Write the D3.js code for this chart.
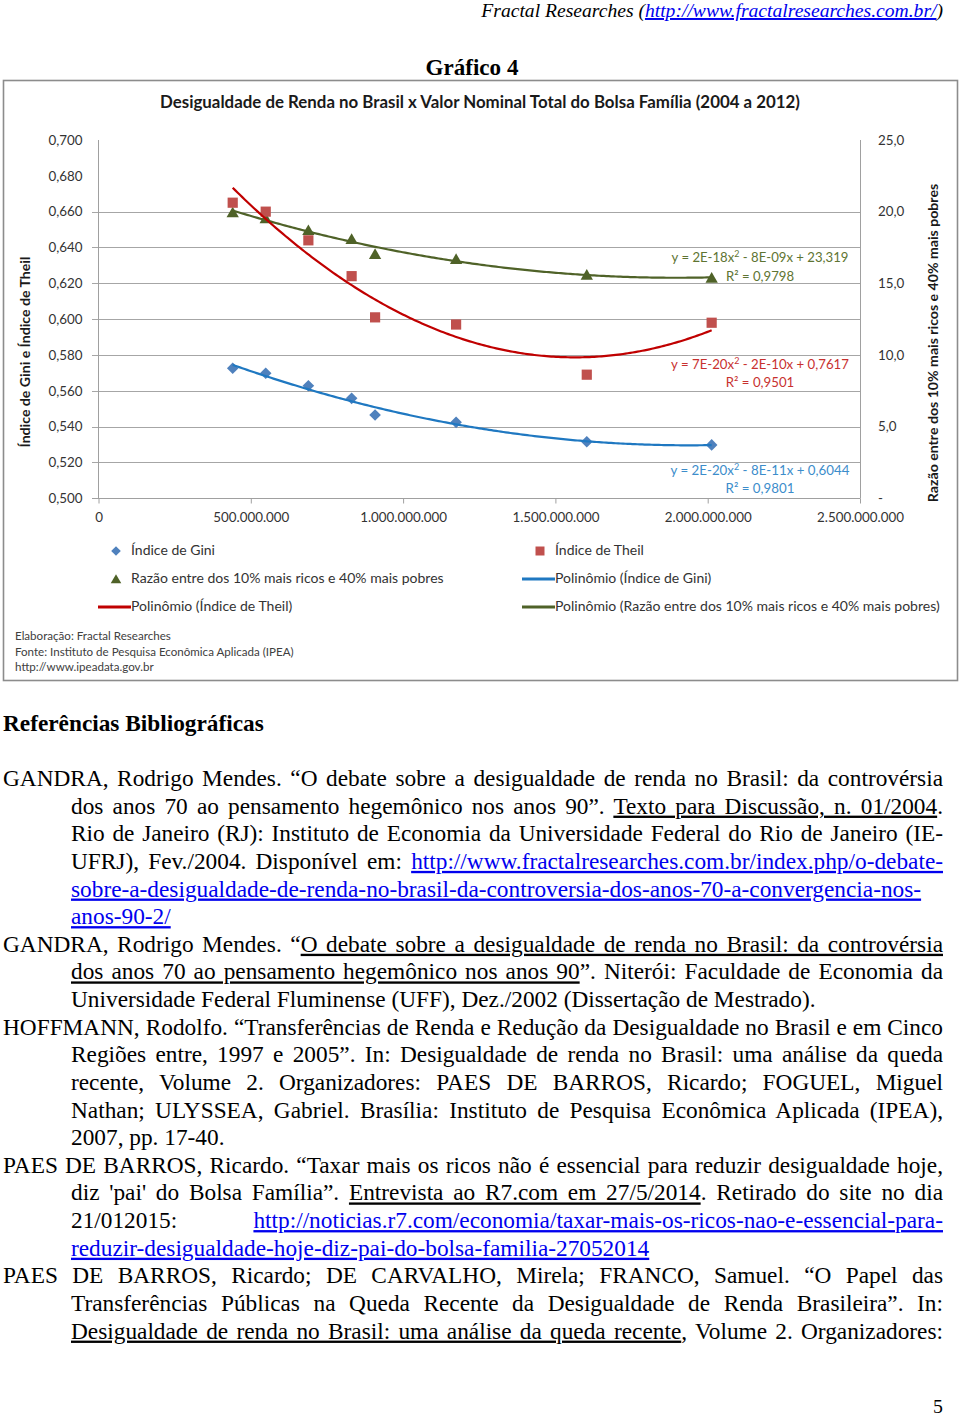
<!DOCTYPE html>
<html><head><meta charset="utf-8">
<script src="https://cdn.jsdelivr.net/npm/d3@7"></script>
<style>body{margin:0;background:#fff}svg{display:block}</style>
</head><body>
<svg id="page" width="960" height="1418"></svg>
<script>
// ---------------- DATA ----------------
const bolsaValues = [440.6e6, 549e6, 689e6, 831e6, 908e6, 1174e6, 1603e6, 2013e6];
const giniValues  = [0.5726, 0.5698, 0.5628, 0.5558, 0.5465, 0.5424, 0.5316, 0.5298];
const theilValues = [0.665, 0.660, 0.644, 0.624, 0.601, 0.597, 0.569, 0.598];
const ratioValues = [19.96, 19.55, 18.72, 18.1, 17.05, 16.7, 15.6, 15.4];

const xTickValues = [0, 5e8, 1e9, 1.5e9, 2e9, 2.5e9];
const xTickLabels = ["0", "500.000.000", "1.000.000.000", "1.500.000.000", "2.000.000.000", "2.500.000.000"];
const leftTickValues = [0.50, 0.52, 0.54, 0.56, 0.58, 0.60, 0.62, 0.64, 0.66, 0.68, 0.70];
const leftTickLabels = ["0,500", "0,520", "0,540", "0,560", "0,580", "0,600", "0,620", "0,640", "0,660", "0,680", "0,700"];
const gridValues = [0.52, 0.54, 0.56, 0.58, 0.60, 0.62, 0.64, 0.66];
const rightTickValues = [0, 5, 10, 15, 20, 25];
const rightTickLabels = ["-", "5,0", "10,0", "15,0", "20,0", "25,0"];

const seriesNames = ["Índice de Gini", "Índice de Theil", "Razão entre dos 10% mais ricos e 40% mais pobres"];
const trendNames = ["Polinômio (Índice de Gini)", "Polinômio (Índice de Theil)", "Polinômio (Razão entre dos 10% mais ricos e 40% mais pobres)"];
const equationTexts = [
  ["y = 2E-20x", "2", " - 8E-11x + 0,6044", "R² = 0,9801"],
  ["y = 7E-20x", "2", " - 2E-10x + 0,7617", "R² = 0,9501"],
  ["y = 2E-18x", "2", " - 8E-09x + 23,319", "R² = 0,9798"]
];

// ---------------- LAYOUT ----------------
const svg = d3.select("#page");
const SANS = "Lato, 'Open Sans', sans-serif";
const SERIF = "'Liberation Serif', 'Times New Roman', serif";
const C = {
  gini: "#4F81BD", theil: "#C0504D", ratio: "#4F6228",
  giniLine: "#1F78C1", theilLine: "#C00000", ratioLine: "#4F6228",
  giniText: "#3C8DCB", theilText: "#C8312F", ratioText: "#5E7432",
  axis: "#A0A0A0", grid: "#A6A6A6", text: "#333333"
};

function fit(sel, w) {
  const l = sel.node().getComputedTextLength();
  const fs = parseFloat(sel.attr("font-size"));
  sel.attr("font-size", fs * w / l);
  return fs * w / l;
}

// header
const hdr = svg.append("text").attr("x", 943).attr("y", 17).attr("text-anchor", "end")
  .attr("font-family", SERIF).attr("font-style", "italic").attr("font-size", 19).attr("fill", "#000");
hdr.append("tspan").text("Fractal Researches (");
hdr.append("tspan").attr("fill", "#0000EE").attr("text-decoration", "underline").text("http://www.fractalresearches.com.br/");
hdr.append("tspan").text(")");
fit(hdr, 462);

const g4 = svg.append("text").attr("x", 472).attr("y", 75).attr("text-anchor", "middle")
  .attr("font-family", SERIF).attr("font-weight", "bold").attr("font-size", 23).text("Gráfico 4");
fit(g4, 93);

// chart frame
svg.append("rect").attr("x", 3.5).attr("y", 80.5).attr("width", 954).attr("height", 600)
  .attr("fill", "#fff").attr("stroke", "#8C8C8C").attr("stroke-width", 1.6);

const title = svg.append("text").attr("x", 480).attr("y", 107.5).attr("text-anchor", "middle")
  .attr("font-family", SANS).attr("font-weight", "bold").attr("font-size", 15).attr("fill", "#1a1a1a")
  .text("Desigualdade de Renda no Brasil x Valor Nominal Total do Bolsa Família (2004 a 2012)");
fit(title, 640);

// scales
const x = d3.scaleLinear().domain([0, 2.5e9]).range([98.5, 860]);
const yL = d3.scaleLinear().domain([0.5, 0.7]).range([498.3, 140]);
const yR = d3.scaleLinear().domain([0, 25]).range([498.3, 140]);

const plot = svg.append("g");
// gridlines
plot.selectAll("line.grid").data(gridValues).join("line").attr("class", "grid")
  .attr("x1", 92).attr("x2", x(2.5e9)).attr("y1", d => Math.round(yL(d)) + 0.5).attr("y2", d => Math.round(yL(d)) + 0.5)
  .attr("stroke", C.grid).attr("stroke-width", 1);
// axis lines
plot.append("line").attr("x1", 92).attr("x2", x(2.5e9)).attr("y1", 498.5).attr("y2", 498.5).attr("stroke", C.axis);
plot.append("line").attr("x1", 98.5).attr("x2", 98.5).attr("y1", 140).attr("y2", 498.5).attr("stroke", C.axis);
plot.append("line").attr("x1", 860.5).attr("x2", 860.5).attr("y1", 140).attr("y2", 498.5).attr("stroke", C.axis);

// x axis via d3 axis
const xAxis = d3.axisBottom(x).tickValues(xTickValues).tickFormat((d, i) => xTickLabels[i]).tickSize(5).tickPadding(9);
const gx = svg.append("g").attr("transform", "translate(0,498.5)").call(xAxis);
gx.select(".domain").remove();
gx.selectAll(".tick line").attr("stroke", C.axis);
gx.selectAll(".tick text").attr("font-family", SANS).attr("fill", C.text).attr("font-size", 13);
const tmp = gx.selectAll(".tick text").filter((d, i) => i === 5);
const axFS = fit(tmp, 87);
gx.selectAll(".tick text").attr("font-size", axFS);

const yAxisL = d3.axisLeft(yL).tickValues(leftTickValues).tickFormat((d, i) => leftTickLabels[i]).tickSize(0).tickPadding(16);
const gyl = svg.append("g").attr("transform", "translate(98.5,0)").call(yAxisL);
gyl.select(".domain").remove();
gyl.selectAll(".tick text").attr("font-family", SANS).attr("fill", C.text).attr("font-size", axFS);

const yAxisR = d3.axisRight(yR).tickValues(rightTickValues).tickFormat((d, i) => rightTickLabels[i]).tickSize(0).tickPadding(18);
const gyr = svg.append("g").attr("transform", "translate(860,0)").call(yAxisR);
gyr.select(".domain").remove();
gyr.selectAll(".tick text").attr("font-family", SANS).attr("fill", C.text).attr("font-size", axFS);

// axis titles
const lt = svg.append("text").attr("transform", "translate(30,352) rotate(-90)").attr("text-anchor", "middle")
  .attr("font-family", SANS).attr("font-weight", "bold").attr("font-size", 13).attr("fill", "#1a1a1a")
  .text("Índice de Gini e Índice de Theil");
const atFS = fit(lt, 191);
svg.append("text").attr("transform", "translate(938,343) rotate(-90)").attr("text-anchor", "middle")
  .attr("font-family", SANS).attr("font-weight", "bold").attr("font-size", atFS).attr("fill", "#1a1a1a")
  .text("Razão entre dos 10% mais ricos e 40% mais pobres");

// quadratic least squares (Excel polynomial trendline, order 2)
function polyfit2(xs, ys) {
  const s = k => d3.sum(xs, v => Math.pow(v, k));
  const t = k => d3.sum(xs.map((v, i) => Math.pow(v, k) * ys[i]));
  const A = [[s(4), s(3), s(2)], [s(3), s(2), s(1)], [s(2), s(1), xs.length]];
  const B = [t(2), t(1), t(0)];
  const det = m => m[0][0]*(m[1][1]*m[2][2]-m[1][2]*m[2][1]) - m[0][1]*(m[1][0]*m[2][2]-m[1][2]*m[2][0]) + m[0][2]*(m[1][0]*m[2][1]-m[1][1]*m[2][0]);
  const D = det(A);
  return [0, 1, 2].map(c => det(A.map((row, r) => row.map((v, j) => j === c ? B[r] : v))) / D);
}
const xb = bolsaValues.map(v => v / 1e9);
function trend(ys, yScale, color) {
  const [a, b, c] = polyfit2(xb, ys);
  const pts = d3.range(0, 201).map(i => {
    const xv = d3.min(xb) + (d3.max(xb) - d3.min(xb)) * i / 200;
    return [xv * 1e9, a * xv * xv + b * xv + c];
  });
  plot.append("path").attr("d", d3.line().x(d => x(d[0])).y(d => yScale(d[1]))(pts))
    .attr("fill", "none").attr("stroke", color).attr("stroke-width", 2.2);
}

// marker shapes
const diamond = s => `M0,${-s}L${s},0L0,${s}L${-s},0Z`;
const square = s => `M${-s},${-s}H${s}V${s}H${-s}Z`;
const triangle = s => `M0,${-s}L${s * 1.1},${s * 0.9}L${-s * 1.1},${s * 0.9}Z`;

const mk = plot.append("g");
mk.selectAll("path.tri").data(ratioValues).join("path").attr("class", "tri")
  .attr("transform", (d, i) => `translate(${x(bolsaValues[i])},${yR(d)})`).attr("d", triangle(5.6)).attr("fill", C.ratio);
mk.selectAll("path.sq").data(theilValues).join("path").attr("class", "sq")
  .attr("transform", (d, i) => `translate(${x(bolsaValues[i])},${yL(d)})`).attr("d", square(5.1)).attr("fill", C.theil);
mk.selectAll("path.dia").data(giniValues).join("path").attr("class", "dia")
  .attr("transform", (d, i) => `translate(${x(bolsaValues[i])},${yL(d)})`).attr("d", diamond(5.8)).attr("fill", C.gini);

trend(ratioValues, yR, C.ratioLine);
trend(theilValues, yL, C.theilLine);
trend(giniValues, yL, C.giniLine);

// equations
const eqPos = [[475, 493, C.giniText], [368.5, 386.5, C.theilText], [262, 280.5, C.ratioText]];
const eqWidths = [179, 178, 177];
equationTexts.forEach((e, i) => {
  const t = svg.append("text").attr("x", 760).attr("y", eqPos[i][0]).attr("text-anchor", "middle")
    .attr("font-family", SANS).attr("font-size", 12.5).attr("fill", eqPos[i][2]);
  t.append("tspan").text(e[0]);
  t.append("tspan").attr("dy", -5).attr("font-size", 8.5).text(e[1]);
  t.append("tspan").attr("dy", 5).text(e[2]);
  const fs = fit(t, eqWidths[i]);
  t.selectAll("tspan").filter((d, k) => k === 1).attr("font-size", fs * 0.68);
  svg.append("text").attr("x", 760).attr("y", eqPos[i][1]).attr("text-anchor", "middle")
    .attr("font-family", SANS).attr("font-size", fs).attr("fill", eqPos[i][2]).text(e[3]);
});

// legend
const lg = svg.append("g");
const legTexts = [
  [seriesNames[0], 131, 555], [seriesNames[1], 555, 555],
  [seriesNames[2], 131, 583], [trendNames[0], 555, 583],
  [trendNames[1], 131, 611], [trendNames[2], 555, 611]
];
const longest = lg.append("text").attr("font-family", SANS).attr("font-size", 13).text(trendNames[2]);
const lgFS = fit(longest, 385);
longest.remove();
legTexts.forEach(l => lg.append("text").attr("x", l[1]).attr("y", l[2]).attr("font-family", SANS)
  .attr("font-size", lgFS).attr("fill", C.text).text(l[0]));
lg.append("path").attr("transform", "translate(116,551)").attr("d", diamond(4.8)).attr("fill", C.gini);
lg.append("path").attr("transform", "translate(540,551)").attr("d", square(4.5)).attr("fill", C.theil);
lg.append("path").attr("transform", "translate(116,579)").attr("d", triangle(4.8)).attr("fill", C.ratio);
lg.append("line").attr("x1", 522).attr("x2", 555).attr("y1", 579).attr("y2", 579).attr("stroke", C.giniLine).attr("stroke-width", 3);
lg.append("line").attr("x1", 98).attr("x2", 131).attr("y1", 607).attr("y2", 607).attr("stroke", C.theilLine).attr("stroke-width", 3);
lg.append("line").attr("x1", 522).attr("x2", 555).attr("y1", 607).attr("y2", 607).attr("stroke", C.ratioLine).attr("stroke-width", 3);

// footer notes
const footLines = ["Elaboração: Fractal Researches", "Fonte: Instituto de Pesquisa Econômica Aplicada (IPEA)", "http://www.ipeadata.gov.br"];
const f1 = svg.append("text").attr("font-family", SANS).attr("font-size", 11).text(footLines[1]);
const ftFS = fit(f1, 279);
f1.remove();
footLines.forEach((t, i) => svg.append("text").attr("x", 15).attr("y", 640 + i * 15.7)
  .attr("font-family", SANS).attr("font-size", ftFS).attr("fill", "#404040").text(t));

// ---------------- REFERENCES ----------------
const heading = svg.append("text").attr("x", 3).attr("y", 731).attr("font-family", SERIF)
  .attr("font-weight", "bold").attr("font-size", 23).text("Referências Bibliográficas");
fit(heading, 261);

const calib = svg.append("text").attr("font-family", SERIF).attr("font-size", 23)
  .text("Universidade Federal Fluminense (UFF), Dez./2002 (Dissertação de Mestrado).");
const serifFS = fit(calib, 745);
calib.remove();

const refLines = [
  [3, 1, [["GANDRA, Rodrigo Mendes. “O debate sobre a desigualdade de renda no Brasil: da controvérsia", 0]]],
  [71, 1, [["dos anos 70 ao pensamento hegemônico nos anos 90”. ", 0], ["Texto para Discussão, n. 01/2004", 1], [".", 0]]],
  [71, 1, [["Rio de Janeiro (RJ): Instituto de Economia da Universidade Federal do Rio de Janeiro (IE-", 0]]],
  [71, 1, [["UFRJ), Fev./2004. Disponível em: ", 0], ["http://www.fractalresearches.com.br/index.php/o-debate-", 2]]],
  [71, 0, [["sobre-a-desigualdade-de-renda-no-brasil-da-controversia-dos-anos-70-a-convergencia-nos-", 2]]],
  [71, 0, [["anos-90-2/", 2]]],
  [3, 1, [["GANDRA, Rodrigo Mendes. “", 0], ["O debate sobre a desigualdade de renda no Brasil: da controvérsia", 1]]],
  [71, 1, [["dos anos 70 ao pensamento hegemônico nos anos 90", 1], ["”. Niterói: Faculdade de Economia da", 0]]],
  [71, 0, [["Universidade Federal Fluminense (UFF), Dez./2002 (Dissertação de Mestrado).", 0]]],
  [3, 1, [["HOFFMANN, Rodolfo. “Transferências de Renda e Redução da Desigualdade no Brasil e em Cinco", 0]]],
  [71, 1, [["Regiões entre, 1997 e 2005”. In: Desigualdade de renda no Brasil: uma análise da queda", 0]]],
  [71, 1, [["recente, Volume 2. Organizadores: PAES DE BARROS, Ricardo; FOGUEL, Miguel", 0]]],
  [71, 1, [["Nathan; ULYSSEA, Gabriel. Brasília: Instituto de Pesquisa Econômica Aplicada (IPEA),", 0]]],
  [71, 0, [["2007, pp. 17-40.", 0]]],
  [3, 1, [["PAES DE BARROS, Ricardo. “Taxar mais os ricos não é essencial para reduzir desigualdade hoje,", 0]]],
  [71, 1, [["diz 'pai' do Bolsa Família”. ", 0], ["Entrevista ao R7.com em 27/5/2014", 1], [". Retirado do site no dia", 0]]],
  [71, 1, [["21/012015: ", 0], ["http://noticias.r7.com/economia/taxar-mais-os-ricos-nao-e-essencial-para-", 2]]],
  [71, 0, [["reduzir-desigualdade-hoje-diz-pai-do-bolsa-familia-27052014", 2]]],
  [3, 1, [["PAES DE BARROS, Ricardo; DE CARVALHO, Mirela; FRANCO, Samuel. “O Papel das", 0]]],
  [71, 1, [["Transferências Públicas na Queda Recente da Desigualdade de Renda Brasileira”. In:", 0]]],
  [71, 1, [["Desigualdade de renda no Brasil: uma análise da queda recente", 1], [", Volume 2. Organizadores:", 0]]]
];
refLines.forEach((ln, i) => {
  const t = svg.append("text").attr("x", ln[0]).attr("y", 786 + i * 27.63)
    .attr("font-family", SERIF).attr("font-size", serifFS).attr("fill", "#000");
  ln[2].forEach(s => {
    const ts = t.append("tspan").text(s[0]);
    if (s[1] >= 1) ts.attr("text-decoration", "underline");
    if (s[1] === 2) ts.attr("fill", "#0000EE");
  });
  if (ln[1]) {
    const full = ln[2].map(s => s[0]).join("");
    const n = (full.match(/ /g) || []).length;
    const w = t.node().getComputedTextLength();
    if (n > 0) t.attr("word-spacing", (943 - ln[0] - w) / n);
  }
});

svg.append("text").attr("x", 943).attr("y", 1413).attr("text-anchor", "end")
  .attr("font-family", SERIF).attr("font-size", serifFS * 0.85).text("5");
</script>
</body></html>
